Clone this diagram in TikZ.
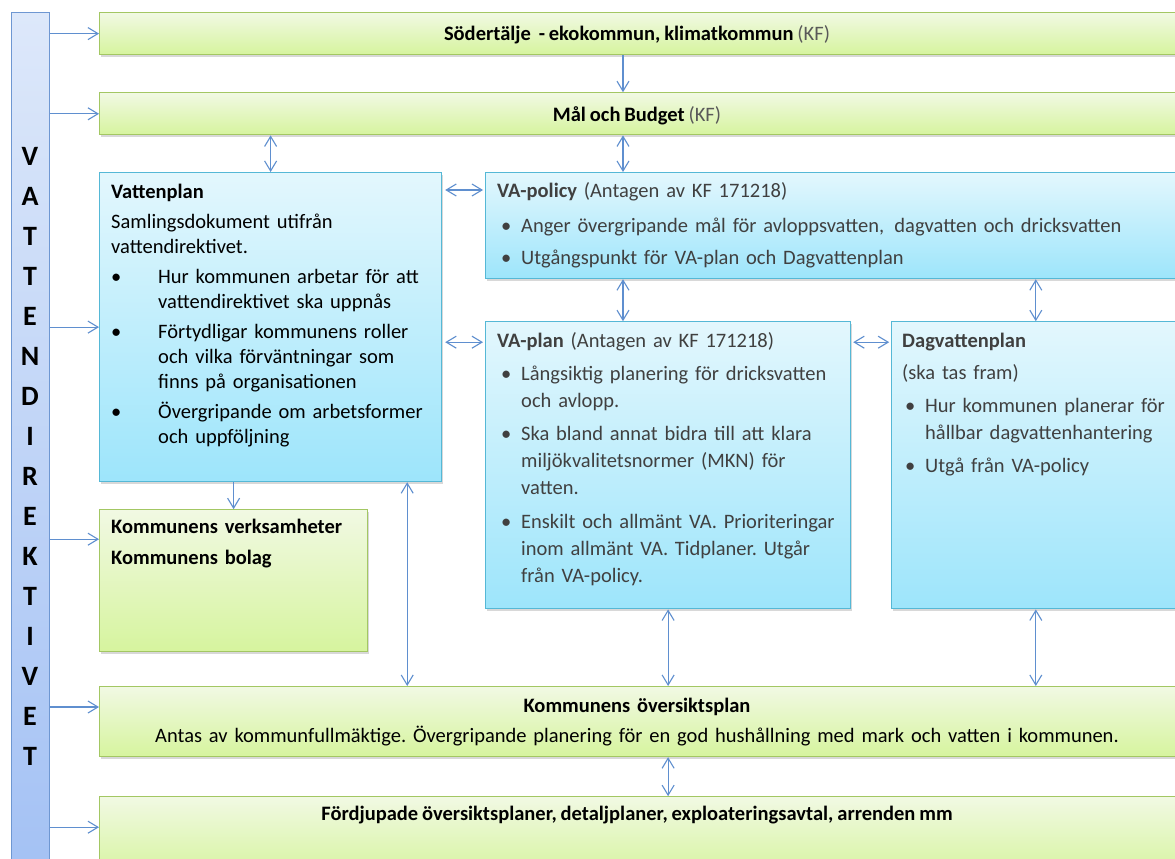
\documentclass[tikz,border=0pt]{standalone}
\usepackage{fontspec}
\setmainfont{Carlito}
\usetikzlibrary{
    arrows.meta,
    positioning,
    shadows,
}
\definecolor{GreenTop}{HTML}{F1F9E3}
\definecolor{GreenBottom}{HTML}{D6F49E}
\definecolor{GreenLine}{HTML}{A3C763}
\definecolor{CyanTop}{HTML}{E3F7FD}
\definecolor{CyanBottom}{HTML}{9DE5FB}
\definecolor{CyanLine}{HTML}{55B8D6}
\definecolor{BarTop}{HTML}{DDE8FA}
\definecolor{BarBottom}{HTML}{A3C1F4}
\definecolor{BarLine}{HTML}{6E97D2}
\definecolor{LinkBlue}{HTML}{5F8FCF}
\definecolor{TextGray}{HTML}{404040}
\definecolor{KFGray}{HTML}{595959}
\newcommand{\tight}{\frenchspacing\spaceskip=.19em plus .05em\relax}
\tikzstyle{boxbase}=[draw,rectangle,line width=1.2pt,anchor=north west,inner sep=0pt]
\tikzstyle{plan}=[boxbase,drop shadow={shadow xshift=1.5pt,shadow yshift=-2pt,opacity=.3}]
\tikzstyle{greenbox}=[plan,draw=GreenLine,top color=GreenTop,bottom color=GreenBottom]
\tikzstyle{cyanbox}=[plan,draw=CyanLine,top color=CyanTop,bottom color=CyanBottom]
\tikzstyle{bar}=[boxbase,draw=BarLine,top color=BarTop,bottom color=BarBottom]
\tikzstyle{letter}=[anchor=base,inner sep=0pt,font=\fontsize{28}{28}\selectfont\bfseries]
\tikzstyle{plantext}=[anchor=base west,inner sep=0pt,text width=700pt,align=left,font=\fontsize{20.5}{25}\selectfont\tight]
\tikzstyle{vatext}=[plantext,text=TextGray,font=\fontsize{20.5}{27}\selectfont\tight]
\tikzstyle{titletext}=[anchor=base,inner sep=0pt,font=\fontsize{20.5}{30}\selectfont\tight]
\tikzstyle{link}=[LinkBlue,line width=1.1pt]
\tikzset{
    >={Straight Barb[length=10pt,width=12pt]}
}
\newcommand{\bull}[2][0pt]{\hspace*{#1}\makebox[#2][l]{\textbullet}}
\newcommand{\cont}[1]{\hspace*{#1}}

\begin{document}
\begin{tikzpicture}[x=1pt,y=-1pt]
    \clip (0,0) rectangle (1175,859);
    \fill[white] (0,0) rectangle (1175,859);

    % Vattendirektivet
    \node[bar,minimum width=38pt,minimum height=870pt] (Vattendirektivet) at (11,12) {};
    \foreach \letter [count=\i from 0] in {V,A,T,T,E,N,D,I,R,E,K,T,I,V,E,T}
        \node[letter] (letter \i) at (30,165+40*\i) {\letter};

    % Kommunfullmaktige
    \node[greenbox,minimum width=1079pt,minimum height=42pt] (Sodertalje) at (99,12) {};
    \node[titletext] (Sodertalje text) at (637,41)
        {\textbf{Södertälje~ - ekokommun, klimatkommun} {\color{KFGray}(KF)}};
    \node[greenbox,minimum width=1079pt,minimum height=42pt,below=37pt of Sodertalje.south west,anchor=north west] (Mal och Budget) {};
    \node[titletext] (Mal text) at (637,121)
        {\textbf{Mål och Budget} {\color{KFGray}(KF)}};

    % Planer
    \node[cyanbox,minimum width=342pt,minimum height=309pt] (Vattenplan) at (99,172) {};
    \node[plantext] (Vattenplan text) at (111,198) {%
        \textbf{Vattenplan}\\[5pt]
        Samlingsdokument utifrån\\
        vattendirektivet.\\[5pt]
        \bull{47pt}Hur kommunen arbetar för att\\
        \cont{47pt}vattendirektivet ska uppnås\\[5pt]
        \bull{47pt}Förtydligar kommunens roller\\
        \cont{47pt}och vilka förväntningar som\\
        \cont{47pt}finns på organisationen\\[5pt]
        \bull{47pt}Övergripande om arbetsformer\\
        \cont{47pt}och uppföljning
    };

    \node[cyanbox,minimum width=693pt,minimum height=106pt] (VA policy) at (485,172) {};
    \node[vatext] (VA policy text) at (497,197) {%
        \textbf{VA-policy} (Antagen av KF 171218)\\[8pt]
        \bull[4pt]{20pt}Anger övergripande mål för avloppsvatten,\, dagvatten och dricksvatten\\[5pt]
        \bull[4pt]{20pt}Utgångspunkt för VA-plan och Dagvattenplan
    };

    \node[cyanbox,minimum width=365pt,minimum height=287pt,below=42pt of VA policy.south west,anchor=north west] (VA plan) {};
    \node[vatext] (VA plan text) at (497,347) {%
        \textbf{VA-plan} (Antagen av KF 171218)\\[6pt]
        \bull[4pt]{20pt}Långsiktig planering för dricksvatten\\
        \cont{24pt}och avlopp.\\[6pt]
        \bull[4pt]{20pt}Ska bland annat bidra till att klara\\
        \cont{24pt}miljökvalitetsnormer (MKN) för\\
        \cont{24pt}vatten.\\[7pt]
        \bull[4pt]{20pt}Enskilt och allmänt VA. Prioriteringar\\
        \cont{24pt}inom allmänt VA. Tidplaner. Utgår\\
        \cont{24pt}från VA-policy.
    };

    \node[cyanbox,minimum width=288pt,minimum height=287pt,right=40pt of VA plan.north east,anchor=north west] (Dagvattenplan) {};
    \node[vatext] (Dagvattenplan text) at (902,347) {%
        \textbf{Dagvattenplan}\\[5pt]
        (ska tas fram)\\[6pt]
        \bull[3pt]{20pt}Hur kommunen planerar för\\
        \cont{23pt}hållbar dagvattenhantering\\[6pt]
        \bull[3pt]{20pt}Utgå från VA-policy
    };

    \node[greenbox,minimum width=268pt,minimum height=142pt,below=27pt of Vattenplan.south west,anchor=north west] (Verksamheter) {};
    \node[plantext,font=\fontsize{20.5}{31}\selectfont\bfseries\tight] (Verksamheter text) at (111,533) {%
        Kommunens verksamheter\\
        Kommunens bolag
    };

    \node[greenbox,minimum width=1079pt,minimum height=70pt] (Oversiktsplan) at (99,686) {};
    \node[titletext,text width=1060pt,align=center] (Oversiktsplan text) at (637,712) {%
        \textbf{Kommunens översiktsplan}\\
        Antas av kommunfullmäktige. Övergripande planering för en god hushållning med mark och vatten i kommunen.
    };

    \node[greenbox,minimum width=1079pt,minimum height=80pt,below=39pt of Oversiktsplan.south west,anchor=north west] (Fordjupade) {};
    \node[titletext] (Fordjupade text) at (637,820)
        {\textbf{Fördjupade översiktsplaner, detaljplaner, exploateringsavtal, arrenden mm}};

    % Links from Vattendirektivet
    \coordinate[below=30pt of Verksamheter.north west] (verksamheter in);
    \coordinate[below=21pt of Oversiktsplan.north west] (oversikt in);
    \coordinate[below=31pt of Fordjupade.north west] (fordjupade in);
    \foreach \target in {Sodertalje.west,Mal och Budget.west,Vattenplan.west,verksamheter in,oversikt in,fordjupade in}
        \draw[link,->] (Vattendirektivet.east |- \target) -- (\target);

    % Links between plans
    \coordinate[right=138pt of VA policy.north west] (policy top);
    \draw[link,->] (policy top |- Sodertalje.south) -- (policy top |- Mal och Budget.north);
    \draw[link,<->] (policy top |- Mal och Budget.south) -- (policy top);
    \draw[link,<->] (Vattenplan.north) -- (Vattenplan.north |- Mal och Budget.south);
    \draw[link,<->] (policy top |- VA policy.south) -- (policy top |- VA plan.north);
    \draw[link,<->] (Dagvattenplan.north |- VA policy.south) -- (Dagvattenplan.north);
    \coordinate[below=18pt of Vattenplan.north east] (policy link);
    \draw[link,<->] ([xshift=3pt]policy link) -- ([xshift=-2pt]policy link -| VA policy.west);
    \coordinate[below=21pt of VA plan.north west] (plan link);
    \draw[link,<->] ([xshift=3pt]Vattenplan.east |- plan link) -- ([xshift=-2pt]plan link);
    \draw[link,<->] ([xshift=2pt]VA plan.east |- plan link) -- ([xshift=-2pt]Dagvattenplan.west |- plan link);
    \draw[link,->] (Vattenplan.south -| Verksamheter.north) -- (Verksamheter.north);
    \coordinate[left=35pt of Vattenplan.south east] (oversikt link);
    \draw[link,<->] (oversikt link) -- (oversikt link |- Oversiktsplan.north);
    \draw[link,<->] (VA plan.south) -- (VA plan.south |- Oversiktsplan.north);
    \draw[link,<->] (Dagvattenplan.south) -- (Dagvattenplan.south |- Oversiktsplan.north);
    \draw[link,<->] (VA plan.south |- Oversiktsplan.south) -- (VA plan.south |- Fordjupade.north);
\end{tikzpicture}
\end{document}
